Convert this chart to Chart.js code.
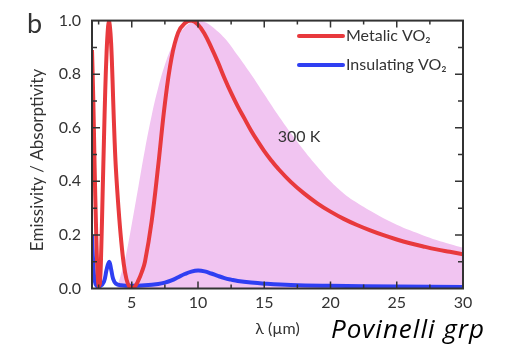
<!DOCTYPE html>
<html>
<head>
<meta charset="utf-8">
<script src="https://cdn.jsdelivr.net/npm/chart.js@4.4.1/dist/chart.umd.min.js"></script>
<style>
  html, body { margin: 0; padding: 0; background: #fff; }
</style>
</head>
<body>
<canvas id="myChart" width="505" height="348"></canvas>
<script>
// valores (lambda en um)
const metalLambda = [2.0, 2.1, 2.2, 2.3, 2.4, 2.5, 2.6, 2.7, 2.8, 2.9, 3.0, 3.1, 3.2, 3.28, 3.4, 3.5, 3.6, 3.7, 3.8, 4.0, 4.2, 4.4, 4.6, 4.8, 5.0, 5.25, 5.5, 5.75, 6.0, 6.5, 7.0, 7.5, 8.0, 8.5, 9.0, 9.5, 10.0, 10.5, 11.0, 11.5, 12.0, 12.5, 13.0, 13.5, 14.0, 14.5, 15.0, 15.5, 16.0, 17.0, 18.0, 19.0, 20.0, 21.0, 22.0, 23.0, 24.0, 25.0, 26.0, 27.0, 28.0, 29.0, 30.0];
const metalValues = [0.89, 0.70, 0.45, 0.24, 0.08, 0.01, 0.02, 0.15, 0.35, 0.55, 0.74, 0.88, 0.97, 1.0, 0.95, 0.85, 0.70, 0.56, 0.45, 0.30, 0.18, 0.09, 0.035, 0.008, 0.0, 0.008, 0.03, 0.06, 0.10, 0.25, 0.46, 0.69, 0.86, 0.955, 0.99, 1.0, 0.985, 0.95, 0.90, 0.845, 0.785, 0.73, 0.68, 0.635, 0.59, 0.55, 0.513, 0.48, 0.45, 0.398, 0.355, 0.318, 0.287, 0.26, 0.237, 0.217, 0.199, 0.183, 0.169, 0.157, 0.146, 0.137, 0.128];

const insulLambda = [2.0, 2.1, 2.2, 2.35, 2.6, 2.9, 3.1, 3.3, 3.45, 3.6, 3.8, 4.2, 5.0, 6.0, 7.0, 7.5, 8.0, 8.5, 9.0, 9.5, 10.0, 10.5, 11.0, 11.5, 12.0, 12.5, 13.0, 14.0, 15.0, 17.0, 20.0, 25.0, 30.0];
const insulValues = [0.20, 0.09, 0.03, 0.01, 0.008, 0.025, 0.07, 0.10, 0.07, 0.035, 0.018, 0.012, 0.01, 0.012, 0.017, 0.022, 0.03, 0.042, 0.054, 0.063, 0.067, 0.064, 0.056, 0.047, 0.039, 0.033, 0.028, 0.022, 0.018, 0.013, 0.01, 0.007, 0.006];

// cuerpo negro 300 K (area rosa)
const bbLambda = [3.9, 4.0, 4.5, 5.0, 5.5, 6.0, 6.5, 7.0, 7.5, 8.0, 8.5, 9.0, 9.5, 10.0, 10.5, 11.0, 12.0, 13.0, 14.0, 15.0, 16.0, 17.0, 18.0, 19.0, 20.0, 21.0, 22.0, 23.0, 24.0, 25.0, 26.0, 27.0, 28.0, 29.0, 30.0];
const bbValues = [0.0, 0.02, 0.11, 0.24, 0.38, 0.52, 0.645, 0.75, 0.835, 0.90, 0.945, 0.975, 0.993, 1.0, 0.995, 0.98, 0.935, 0.87, 0.80, 0.725, 0.65, 0.58, 0.515, 0.455, 0.40, 0.355, 0.32, 0.29, 0.262, 0.238, 0.217, 0.198, 0.181, 0.166, 0.152];

const xTickValues = [5, 10, 15, 20, 25, 30];
const yTickValues = [0.0, 0.2, 0.4, 0.6, 0.8, 1.0];
const seriesLabels = ['Metalic VO\u2082', 'Insulating VO\u2082'];

const FONT = 'Lato, "Open Sans", sans-serif';
const TXT = '#333';

function toPoints(xs, ys) {
  return xs.map(function (x, i) { return { x: x, y: ys[i] }; });
}

// marco y ticks hacia adentro
const frameTicks = {
  id: 'frameTicks',
  afterDatasetsDraw: function (chart) {
    const ctx = chart.ctx;
    const a = chart.chartArea;
    const xs = chart.scales.x, ys = chart.scales.y;
    ctx.save();
    ctx.strokeStyle = '#333';
    ctx.lineWidth = 1.5;
    for (let v = 2.5; v < 30; v += 2.5) {
      const px = xs.getPixelForValue(v);
      const len = (v % 5 === 0) ? 7 : 4;
      ctx.beginPath();
      ctx.moveTo(px, a.bottom); ctx.lineTo(px, a.bottom - len);
      ctx.moveTo(px, a.top); ctx.lineTo(px, a.top + len);
      ctx.stroke();
    }
    for (let i = 1; i < 10; i++) {
      const py = ys.getPixelForValue(i / 10);
      const len = (i % 2 === 0) ? 8 : 5;
      ctx.beginPath();
      ctx.moveTo(a.left, py); ctx.lineTo(a.left + len, py);
      ctx.moveTo(a.right, py); ctx.lineTo(a.right - len, py);
      ctx.stroke();
    }
    ctx.lineWidth = 2;
    ctx.strokeRect(a.left, a.top, a.right - a.left, a.bottom - a.top);
    ctx.restore();
  }
};

// leyenda, letra del panel y textos
const extras = {
  id: 'extras',
  afterDraw: function (chart) {
    const ctx = chart.ctx;
    ctx.save();
    ctx.fillStyle = TXT;
    ctx.textBaseline = 'alphabetic';
    ctx.font = '27px ' + FONT;
    ctx.fillText('b', 27, 33);

    // titulo eje y
    ctx.save();
    ctx.translate(38, 160);
    ctx.rotate(-Math.PI / 2);
    ctx.font = '17px ' + FONT;
    ctx.textAlign = 'center';
    ctx.textBaseline = 'middle';
    ctx.fillText('Emissivity / Absorptivity', 0, 0);
    ctx.restore();

    ctx.font = '16px ' + FONT;
    ctx.textAlign = 'center';
    ctx.textBaseline = 'middle';
    ctx.fillText('300 K', 299, 137);

    // leyenda
    ctx.textAlign = 'left';
    const rows = [36, 65];
    for (let i = 0; i < 2; i++) {
      const ds = chart.data.datasets[i];
      ctx.strokeStyle = ds.borderColor;
      ctx.lineWidth = 4;
      ctx.lineCap = 'round';
      ctx.beginPath();
      ctx.moveTo(299, rows[i]); ctx.lineTo(343, rows[i]);
      ctx.stroke();
      ctx.fillStyle = TXT;
      ctx.fillText(ds.label, 346, rows[i]);
    }

    ctx.fillStyle = '#000';
    ctx.font = 'italic 26px "Open Sans", sans-serif';
    ctx.letterSpacing = '1px';
    ctx.textAlign = 'left';
    ctx.textBaseline = 'alphabetic';
    ctx.fillText('Povinelli grp', 331, 338);
    ctx.restore();
  }
};

const ctx = document.getElementById('myChart');
new Chart(ctx, {
  type: 'line',
  data: {
    datasets: [{
      label: seriesLabels[0],
      data: toPoints(metalLambda, metalValues),
      borderColor: '#e8393d',
      borderWidth: 4,
      pointRadius: 0,
      tension: 0.4,
      fill: false
    }, {
      label: seriesLabels[1],
      data: toPoints(insulLambda, insulValues),
      borderColor: '#2f3ff2',
      borderWidth: 4,
      pointRadius: 0,
      tension: 0.4,
      fill: false
    }, {
      label: '300 K',
      data: toPoints(bbLambda, bbValues),
      borderWidth: 0,
      borderColor: 'rgba(0,0,0,0)',
      backgroundColor: '#f1c4f1',
      pointRadius: 0,
      tension: 0.4,
      fill: 'origin'
    }]
  },
  options: {
    responsive: false,
    animation: false,
    devicePixelRatio: 1,
    layout: { padding: { left: 0, right: 42, top: 13, bottom: 0 } },
    plugins: {
      legend: { display: false },
      tooltip: { enabled: false }
    },
    scales: {
      x: {
        type: 'linear',
        min: 2,
        max: 30,
        afterBuildTicks: function (scale) {
          scale.ticks = xTickValues.map(function (v) { return { value: v }; });
        },
        afterFit: function (scale) { scale.height = 59.5; },
        grid: { display: false, drawTicks: false },
        border: { display: false },
        ticks: {
          padding: 5,
          color: TXT,
          font: { family: FONT, size: 16 },
          maxRotation: 0
        },
        title: {
          display: true,
          text: '\u03bb (\u00b5m)',
          color: TXT,
          font: { family: FONT, size: 16 },
          padding: { top: 0, bottom: 10 }
        }
      },
      y: {
        min: 0,
        max: 1,
        afterBuildTicks: function (scale) {
          scale.ticks = yTickValues.map(function (v) { return { value: v }; });
        },
        afterFit: function (scale) { scale.width = 92; },
        grid: { display: false, drawTicks: false },
        border: { display: false },
        ticks: {
          padding: 11,
          color: TXT,
          font: { family: FONT, size: 16 },
          callback: function (v) { return v.toFixed(1); }
        },
        title: { display: false }
      }
    }
  },
  plugins: [frameTicks, extras]
});
</script>
</body>
</html>
